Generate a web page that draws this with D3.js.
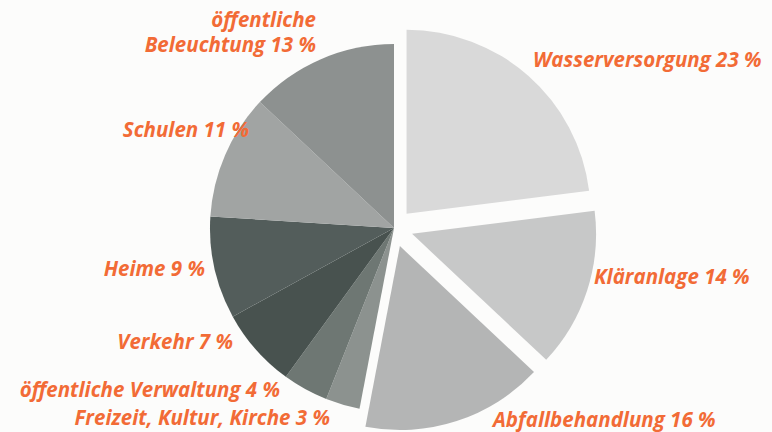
<!DOCTYPE html>
<html>
<head>
<meta charset="utf-8">
<script src="https://cdn.jsdelivr.net/npm/d3@7"></script>
<style>
  html, body { margin: 0; padding: 0; background: #fcfcfb; }
  svg { display: block; }
  .lbl { font-family: 'Open Sans', sans-serif; font-weight: 700; font-style: italic; font-size: 20.5px; fill: #f26b36; }
</style>
</head>
<body>
<svg id="chart"></svg>
<script>
// slices clockwise from 12 o'clock
var categories = ['Wasserversorgung', 'Kläranlage', 'Abfallbehandlung', 'Freizeit, Kultur, Kirche',
  'öffentliche Verwaltung', 'Verkehr', 'Heime', 'Schulen', 'öffentliche Beleuchtung'];
var shares = [23, 14, 16, 3, 4, 7, 9, 11, 13];
var exploded = [true, true, true, false, false, false, false, false, false];
var sliceColors = ['#d9d9d9', '#c7c8c8', '#b4b5b5', '#8c928f', '#6e7773', '#48524f', '#535d5b', '#a1a4a3', '#8d9190'];
var labelLines = [
  ['Wasserversorgung 23 %'],
  ['Kläranlage 14 %'],
  ['Abfallbehandlung 16 %'],
  ['Freizeit, Kultur, Kirche 3 %'],
  ['öffentliche Verwaltung 4 %'],
  ['Verkehr 7 %'],
  ['Heime 9 %'],
  ['Schulen 11 %'],
  ['öffentliche', 'Beleuchtung 13 %']
];

var width = 772, height = 432;
var cx = 394, cy = 228, radius = 184, explodeBy = 19;

// label anchor layout (x, baseline of last line, anchor)
var labelLayout = [
  {x: 533, y: 67, anchor: 'start'},
  {x: 594, y: 284, anchor: 'start'},
  {x: 493, y: 427, anchor: 'start'},
  {x: 330, y: 425, anchor: 'end'},
  {x: 280, y: 397, anchor: 'end'},
  {x: 233, y: 349, anchor: 'end'},
  {x: 205, y: 276, anchor: 'end'},
  {x: 249, y: 137, anchor: 'end'},
  {x: 316, y: 52, anchor: 'end'}
];
var lineGap = 25;

var svg = d3.select('#chart').attr('width', width).attr('height', height);

var data = categories.map(function (c, i) {
  return {name: c, value: shares[i], idx: i};
});

var pie = d3.pie().sort(null).value(function (d) { return d.value; });
var arc = d3.arc().innerRadius(0).outerRadius(radius);
var arcs = pie(data);

var g = svg.append('g').attr('transform', 'translate(' + [cx, cy] + ')');

g.selectAll('path.slice')
  .data(arcs)
  .enter()
  .append('path')
  .attr('class', 'slice')
  .attr('d', arc)
  .attr('fill', function (d) { return sliceColors[d.data.idx]; })
  .attr('transform', function (d) {
    if (!exploded[d.data.idx]) { return null; }
    var a = (d.startAngle + d.endAngle) / 2;
    return 'translate(' + [Math.sin(a) * explodeBy, -Math.cos(a) * explodeBy] + ')';
  });

var labels = svg.selectAll('text.lbl')
  .data(data)
  .enter()
  .append('text')
  .attr('class', 'lbl')
  .attr('text-anchor', function (d) { return labelLayout[d.idx].anchor; })
  .attr('x', function (d) { return labelLayout[d.idx].x; })
  .attr('y', function (d) { return labelLayout[d.idx].y - (labelLines[d.idx].length - 1) * lineGap; });

labels.selectAll('tspan')
  .data(function (d) {
    return labelLines[d.idx].map(function (t) { return {t: t, x: labelLayout[d.idx].x}; });
  })
  .enter()
  .append('tspan')
  .attr('x', function (d) { return d.x; })
  .attr('dy', function (d, i) { return i === 0 ? 0 : lineGap; })
  .text(function (d) { return d.t; });
</script>
</body>
</html>
